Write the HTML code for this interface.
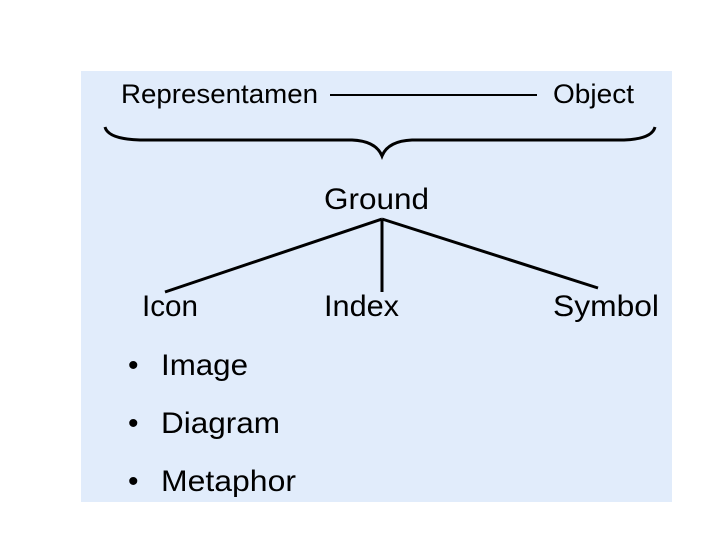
<!DOCTYPE html>
<html><head><style>
body{margin:0;background:#fff;width:720px;height:540px;overflow:hidden}
</style></head><body>
<svg width="720" height="540" xmlns="http://www.w3.org/2000/svg" font-family="Liberation Sans, Arial, sans-serif" fill="#000">
<rect x="81" y="71" width="591" height="431" fill="#e1ecfb"/>
<text x="121" y="103" font-size="27" textLength="197" lengthAdjust="spacingAndGlyphs">Representamen</text>
<text x="553" y="103" font-size="27" textLength="81" lengthAdjust="spacingAndGlyphs">Object</text>
<line x1="330" y1="95" x2="537" y2="95" stroke="#000" stroke-width="2"/>
<path d="M105 127 Q108 139 140 140 L352 140 Q376 141 382 156 Q388 141 412 140 L624 140 Q652 139 655 127" fill="none" stroke="#000" stroke-width="3"/>
<text x="324" y="209" font-size="30" textLength="105" lengthAdjust="spacingAndGlyphs">Ground</text>
<g stroke="#000" stroke-width="3" fill="none">
<line x1="382" y1="219" x2="165" y2="292"/>
<line x1="382" y1="219" x2="382" y2="292"/>
<line x1="382" y1="219" x2="598" y2="288"/>
</g>
<text x="142" y="316" font-size="30" textLength="56" lengthAdjust="spacingAndGlyphs">Icon</text>
<text x="324" y="316" font-size="30" textLength="75" lengthAdjust="spacingAndGlyphs">Index</text>
<text x="553" y="316" font-size="30" textLength="106" lengthAdjust="spacingAndGlyphs">Symbol</text>
<g font-size="30">
<text x="128" y="375">•</text><text x="161" y="375" textLength="87" lengthAdjust="spacingAndGlyphs">Image</text>
<text x="128" y="433">•</text><text x="161" y="433" textLength="119" lengthAdjust="spacingAndGlyphs">Diagram</text>
<text x="128" y="491">•</text><text x="161" y="491" textLength="135" lengthAdjust="spacingAndGlyphs">Metaphor</text>
</g>
</svg>
</body></html>
